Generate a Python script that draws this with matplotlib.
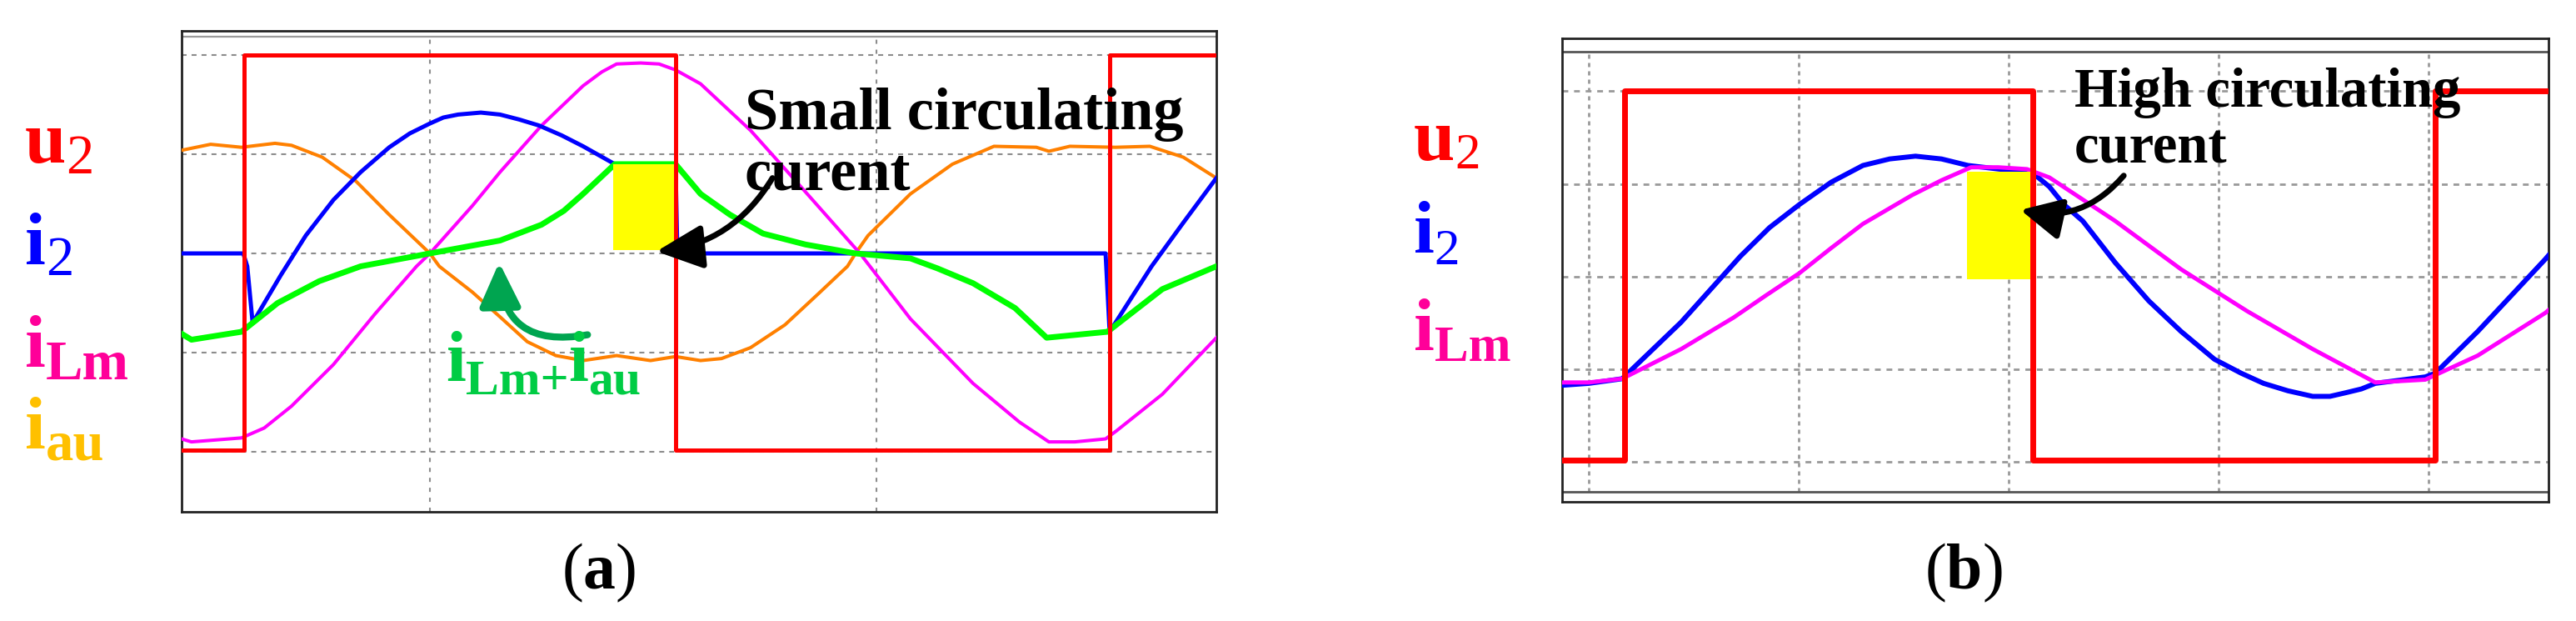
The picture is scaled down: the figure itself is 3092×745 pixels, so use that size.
import matplotlib
matplotlib.use('Agg')
import matplotlib.pyplot as plt
from matplotlib.patches import Rectangle

W, H = 3092, 745
plt.rcParams['font.family'] = ['Liberation Serif', 'DejaVu Serif']
plt.rcParams['mathtext.fontset'] = 'custom'
plt.rcParams['mathtext.rm'] = 'Liberation Serif'
plt.rcParams['mathtext.bf'] = 'Liberation Serif:bold'
plt.rcParams['lines.scale_dashes'] = False
plt.rcParams['lines.solid_joinstyle'] = 'round'

# ---------------- (a) 数据：时间(格)、幅值(格) ----------------
a_u2_t = [4.44, 5.84, 15.50, 25.22, 27.61]
a_u2 = [-1.98, 2.0, -1.98, 2.0, 2.0]

a_i2_t = [4.44, 5.82, 5.91, 6.03, 6.66, 7.22, 7.84, 8.45, 9.09, 9.55, 10.0, 10.30,
          10.63, 11.14, 11.57, 12.00, 12.44, 12.95, 13.43, 14.14, 15.50, 15.54,
          15.60, 25.13, 25.22, 26.16, 26.87, 27.61]
a_i2 = [0.0, 0.0, -0.13, -0.70, -0.22, 0.18, 0.54, 0.82, 1.07, 1.21, 1.31, 1.37,
        1.40, 1.42, 1.40, 1.35, 1.29, 1.19, 1.08, 0.90, 0.90, 0.03,
        0.0, 0.0, -0.79, -0.13, 0.31, 0.76]

a_iLm_t = [4.44, 4.66, 5.78, 6.29, 6.90, 7.84, 8.77, 9.70, 10.0, 10.95, 11.57, 12.50,
           13.43, 13.85, 14.18, 14.72, 15.13, 15.50, 16.06, 17.18, 18.41, 19.63,
           20.76, 22.16, 23.20, 23.86, 24.44, 25.13, 25.37, 26.40, 27.61]
a_iLm = [-1.87, -1.90, -1.86, -1.76, -1.54, -1.12, -0.61, -0.13, 0.0, 0.48, 0.82, 1.29,
         1.69, 1.83, 1.91, 1.92, 1.91, 1.85, 1.71, 1.24, 0.62, 0.0,
         -0.66, -1.31, -1.70, -1.90, -1.90, -1.87, -1.79, -1.42, -0.85]

a_iau_t = [4.44, 5.09, 5.78, 6.53, 6.90, 7.59, 8.34, 9.09, 10.0, 10.21, 10.95, 11.57,
           12.18, 12.82, 13.43, 14.18, 14.94, 15.50, 16.06, 16.53, 17.18, 17.95,
           18.69, 19.35, 19.53, 19.81, 20.76, 21.70, 22.63, 23.58, 23.86, 24.33,
           25.35, 26.12, 26.87, 27.61]
a_iau = [1.04, 1.10, 1.07, 1.11, 1.09, 0.97, 0.73, 0.39, 0.0, -0.13, -0.39, -0.64,
         -0.89, -1.03, -1.08, -1.03, -1.08, -1.04, -1.08, -1.06, -0.95, -0.72,
         -0.41, -0.13, 0.0, 0.18, 0.60, 0.90, 1.08, 1.07, 1.03, 1.08,
         1.07, 1.08, 0.97, 0.76]

a_sum_t = [4.44, 4.66, 5.78, 6.59, 7.52, 8.45, 10.0, 11.57, 12.50, 13.00, 13.43, 14.14,
           15.50, 16.06, 16.72, 17.46, 18.41, 19.53, 20.76, 21.36, 22.16, 23.10,
           23.81, 25.17, 26.40, 27.61]
a_sum = [-0.81, -0.87, -0.79, -0.50, -0.28, -0.13, 0.0, 0.13, 0.29, 0.43, 0.60, 0.90,
         0.90, 0.60, 0.39, 0.20, 0.09, 0.0, -0.05, -0.15, -0.30, -0.55,
         -0.85, -0.79, -0.36, -0.13]

a_box = [14.10, 15.49, 0.03, 0.90]   # 黄色区域 t0, t1, y0, y1

# ---------------- (b) 数据 ----------------
b_u2_t = [-1.27, 1.71, 21.15, 40.32, 45.71]
b_u2 = [-1.98, 2.0, -1.98, 2.0, 2.0]

b_i2_t = [-1.23, 0.0, 1.59, 4.40, 7.22, 8.61, 10.04, 11.55, 13.06, 14.33, 15.56, 16.80,
          18.06, 19.56, 21.03, 21.94, 22.62, 23.53, 25.08, 26.67, 28.21, 29.80,
          31.07, 32.14, 33.30, 34.48, 35.30, 36.07, 36.80, 37.46, 39.84, 40.32,
          42.34, 45.56, 45.71]
b_i2 = [-1.17, -1.15, -1.10, -0.49, 0.22, 0.53, 0.78, 1.02, 1.20, 1.27, 1.30, 1.27,
        1.20, 1.16, 1.14, 0.97, 0.78, 0.60, 0.15, -0.26, -0.59, -0.89,
        -1.04, -1.15, -1.23, -1.29, -1.29, -1.25, -1.21, -1.15, -1.08, -1.04,
        -0.59, 0.19, 0.23]

b_iLm_t = [-1.23, 0.0, 1.59, 4.40, 6.90, 8.45, 10.04, 11.55, 13.06, 15.40, 16.80,
           18.21, 19.50, 20.87, 21.94, 25.08, 28.21, 31.35, 34.48, 37.46, 39.84,
           42.34, 45.56, 45.71]
b_iLm = [-1.14, -1.14, -1.10, -0.78, -0.44, -0.20, 0.04, 0.31, 0.57, 0.88, 1.04,
         1.18, 1.18, 1.16, 1.07, 0.60, 0.08, -0.37, -0.78, -1.14, -1.11,
         -0.85, -0.39, -0.36]

b_box = [18.02, 21.07, -0.03, 1.13]

RED, BLUE, MAG, ORA, GRN = '#ff0000', '#0000ff', '#ff00ff', '#ff8000', '#00ff00'

fig = plt.figure(figsize=(W / 100, H / 100), dpi=100)

# 面板 (a)
ax = fig.add_axes([218 / W, 1 - 614 / H, (1460 - 218) / W, (614 - 37) / H])
ax.set_xlim(4.44, 27.61)
ax.set_ylim(-2.605, 2.244)
for g in [-2, -1, 0, 1, 2]:
    ax.axhline(g, color='#8c8c8c', lw=1.5, dashes=(4.3, 4.3), zorder=1)
ax.vlines([10, 20], -2.605, 2.185, colors='#8c8c8c', lw=1.5,
          linestyles=(0, (3.6, 5)), zorder=1)
ax.axhline(2.185, color='#9a9a9a', lw=1.6, zorder=1)
ax.plot(a_iau_t, a_iau, color=ORA, lw=2.9, zorder=3)
ax.plot(a_iLm_t, a_iLm, color=MAG, lw=2.9, zorder=3)
ax.plot(a_i2_t, a_i2, color=BLUE, lw=3.6, zorder=3)
ax.plot(a_sum_t, a_sum, color=GRN, lw=5, zorder=3)
ax.add_patch(Rectangle((a_box[0], a_box[2]), a_box[1] - a_box[0], a_box[3] - a_box[2],
                       facecolor='#ffff00', edgecolor='none', zorder=4))
ax.step(a_u2_t, a_u2, where='post', color=RED, lw=3.6, zorder=5)
ax.text(17.05, 1.25, 'Small circulating', fontsize=52, fontweight='bold', zorder=6)
ax.text(17.05, 0.64, 'curent', fontsize=52, fontweight='bold', zorder=6)
ax.annotate('', xy=(15.07, 0.02), xytext=(17.67, 0.76), zorder=7,
            arrowprops=dict(arrowstyle='-|>,head_length=3.4,head_width=1.6',
                            connectionstyle='arc3,rad=-0.25', lw=5, color='k',
                            shrinkA=0, shrinkB=0, mutation_scale=10))
ax.annotate('', xy=(11.55, -0.09), xytext=(13.53, -0.82), zorder=7,
            arrowprops=dict(arrowstyle='-|>,head_length=3.2,head_width=1.5',
                            connectionstyle='arc3,rad=-0.58', lw=6, color='#00a550',
                            shrinkA=0, shrinkB=0, mutation_scale=10, capstyle='round'))

# 面板 (b)
bx = fig.add_axes([1875 / W, 1 - 602 / H, (3059 - 1875) / W, (602 - 45.6) / H])
bx.set_xlim(-1.27, 45.71)
bx.set_ylim(-2.427, 2.574)
for g in [-2, -1, 0, 1, 2]:
    bx.axhline(g, color='#999999', lw=2, dashes=(5, 5), zorder=1)
bx.vlines([0, 10, 20, 30, 40], -2.319, 2.427, colors='#999999', lw=2,
          linestyles=(0, (3.6, 3.6)), zorder=1)
bx.axhline(2.427, color='#555555', lw=2, zorder=1)
bx.axhline(-2.319, color='#555555', lw=2, zorder=1)
bx.plot(b_i2_t, b_i2, color=BLUE, lw=4.3, zorder=3)
bx.plot(b_iLm_t, b_iLm, color=MAG, lw=3.6, zorder=3)
bx.add_patch(Rectangle((b_box[0], b_box[2]), b_box[1] - b_box[0], b_box[3] - b_box[2],
                       facecolor='#ffff00', edgecolor='none', zorder=4))
bx.step(b_u2_t, b_u2, where='post', color=RED, lw=5, zorder=5)
bx.text(23.13, 1.83, 'High circulating', fontsize=48, fontweight='bold', zorder=6)
bx.text(23.13, 1.23, 'curent', fontsize=48, fontweight='bold', zorder=6)
bx.annotate('', xy=(20.56, 0.72), xytext=(25.48, 1.09), zorder=7,
            arrowprops=dict(arrowstyle='-|>,head_length=3.0,head_width=1.5',
                            connectionstyle='arc3,rad=-0.3', lw=5, color='k',
                            shrinkA=0, shrinkB=0, mutation_scale=10))

for a in (ax, bx):
    a.set_xticks([])
    a.set_yticks([])
    for s in a.spines.values():
        s.set_linewidth(2)
        s.set_color('#222222')


def label(x, y, parts):
    # x, y: 第一个字符的像素位置（左、基线，自上而下）
    r = fig.canvas.get_renderer()
    for s, size, drop, weight, col in parts:
        t = fig.text(x / W, 1 - (y + drop) / H, s, fontsize=size, fontweight=weight,
                     color=col, va='baseline', ha='left', zorder=8)
        x += t.get_window_extent(renderer=r).width


label(30, 195, [('u', 64, 0, 'bold', '#ff0000'), ('2', 48, 13, 'normal', '#ff0000')])
label(30, 317, [('i', 64, 0, 'bold', '#0000ff'), ('2', 48, 13, 'normal', '#0000ff')])
label(30, 440, [('i', 64, 0, 'bold', '#ff0099'), ('Lm', 48, 15, 'bold', '#ff0099')])
label(30, 538, [('i', 64, 0, 'bold', '#ffc000'), ('au', 48, 14, 'bold', '#ffc000')])

label(1697, 192, [('u', 64, 0, 'bold', '#ff0000'), ('2', 44, 10, 'normal', '#ff0000')])
label(1697, 303, [('i', 64, 0, 'bold', '#0000ff'), ('2', 44, 14, 'normal', '#0000ff')])
label(1697, 420, [('i', 64, 0, 'bold', '#ff0099'), ('Lm', 44, 13, 'bold', '#ff0099')])

label(535, 457, [('i', 62, 0, 'bold', '#00cc44'), ('Lm+', 43, 16, 'bold', '#00cc44'),
                 ('i', 62, 0, 'bold', '#00cc44'), ('au', 43, 16, 'bold', '#00cc44')])

fig.text(719 / W, 1 - 706 / H, r'($\mathbf{a}$)', fontsize=56, ha='center', va='baseline')
fig.text(2357 / W, 1 - 706 / H, r'($\mathbf{b}$)', fontsize=56, ha='center', va='baseline')

fig.savefig('out.png', dpi=100)
